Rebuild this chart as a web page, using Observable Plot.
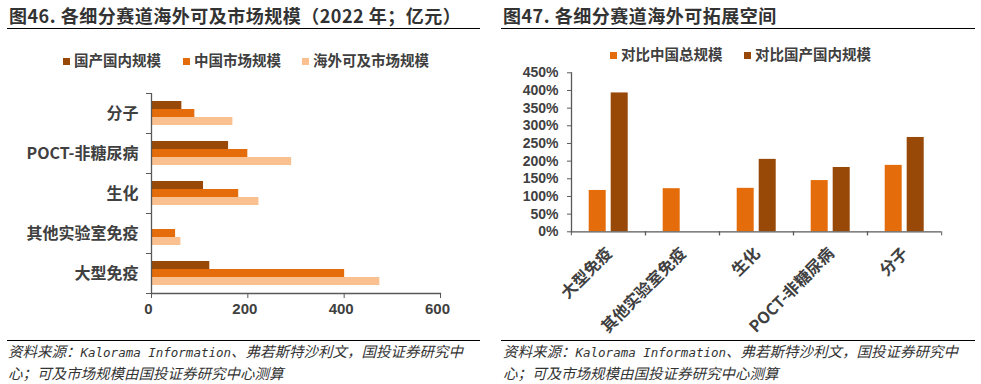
<!DOCTYPE html>
<html><head><meta charset="utf-8">
<script src="https://cdn.jsdelivr.net/npm/d3@7"></script>
<script src="https://cdn.jsdelivr.net/npm/@observablehq/plot@0.6"></script>
<style>
body{margin:0;background:#fff;}
#wrap{position:relative;width:981px;height:384px;overflow:hidden;font-family:"Noto Sans CJK SC","Liberation Sans",sans-serif;color:#404040;}
.title{position:absolute;top:2px;font-size:18px;font-weight:bold;color:#333;white-space:nowrap;letter-spacing:0.5px;}
.hline{position:absolute;height:0;border-top:1.5px solid #000;}
.legend{position:absolute;font-size:14.5px;font-weight:bold;white-space:nowrap;color:#404040;}
.legend span.sw{display:inline-block;width:7px;height:7px;margin-right:4px;vertical-align:middle;position:relative;top:-1px;}
.cap{position:absolute;font-size:14.5px;font-style:italic;color:#333;line-height:20px;font-family:"Noto Sans CJK SC",sans-serif;white-space:nowrap;}
.cap .lat{font-family:"DejaVu Sans Mono",monospace;font-size:12.5px;}
.plot{position:absolute;}
</style></head>
<body><div id="wrap"></div>
<script>
// ---------- data ----------
const categories = ["分子", "POCT-非糖尿病", "生化", "其他实验室免疫", "大型免疫"];
const seriesLeft = ["国产国内规模", "中国市场规模", "海外可及市场规模"];
const domesticMade = [63, 160, 108, 0, 121];     // 国产国内规模 (亿元)
const chinaMarket  = [90, 200, 181, 50, 401];    // 中国市场规模
const overseasMkt  = [169, 291, 223, 61, 474];   // 海外可及市场规模
const xTicksLeft = [0, 200, 400, 600];

const categoriesRight = ["大型免疫", "其他实验室免疫", "生化", "POCT-非糖尿病", "分子"];
const seriesRight = ["对比中国总规模", "对比国产国内规模"];
const vsChina    = [1.17, 1.22, 1.23, 1.45, 1.88];
const vsDomestic = [3.93, null, 2.05, 1.82, 2.67];
const yTicksRight = [0, 0.5, 1, 1.5, 2, 2.5, 3, 3.5, 4, 4.5];

const cDark = "#984807", cOrange = "#E46C0A", cLight = "#FAC090";
const axisColor = "#595959";
const txt = "#404040";

// ---------- layout text ----------
const wrap = document.getElementById("wrap");
function el(tag, cls, style, html){const e=document.createElement(tag);e.className=cls;Object.assign(e.style,style);if(html!=null)e.innerHTML=html;wrap.appendChild(e);return e;}

el("div","title",{left:"9px"},"图46. 各细分赛道海外可及市场规模（2022 年；亿元）");
el("div","title",{left:"503px"},"图47. 各细分赛道海外可拓展空间");
el("div","hline",{left:"7px",width:"473px",top:"28px"});
el("div","hline",{left:"501px",width:"474px",top:"28px"});
el("div","hline",{left:"7px",width:"473px",top:"340px"});
el("div","hline",{left:"501px",width:"474px",top:"340px"});

function legendItem(x, y, color, label){
  el("div","legend",{left:x+"px",top:y+"px"},`<span class="sw" style="background:${color}"></span>${label}`);
}
legendItem(63, 49, cDark, seriesLeft[0]);
legendItem(183, 49, cOrange, seriesLeft[1]);
legendItem(302, 49, cLight, seriesLeft[2]);
legendItem(610, 43, cOrange, seriesRight[0]);
legendItem(744, 43, cDark, seriesRight[1]);

const capHtml = '资料来源：<span class="lat">Kalorama Information</span>、弗若斯特沙利文，国投证券研究中<br>心；可及市场规模由国投证券研究中心测算';
el("div","cap",{left:"8px",top:"341px"},capHtml);
el("div","cap",{left:"503px",top:"341px"},capHtml);

// ---------- left chart ----------
const leftData = [];
categories.forEach((c,i)=>{
  leftData.push({cat:c, series:seriesLeft[0], value:domesticMade[i]});
  leftData.push({cat:c, series:seriesLeft[1], value:chinaMarket[i]});
  leftData.push({cat:c, series:seriesLeft[2], value:overseasMkt[i]});
});
const fontStack = '"Noto Sans CJK SC", sans-serif';
const numFont = '"Liberation Sans", Arial, sans-serif';

const left = Plot.plot({
  width: 470, height: 250,
  marginLeft: 151, marginRight: 30, marginTop: 13, marginBottom: 37,
  style: {fontFamily: numFont, color: txt, background: "transparent", overflow: "visible"},
  x: {domain: [0, 600], ticks: xTicksLeft},
  y: {domain: seriesLeft, paddingInner: 0, paddingOuter: 0.9, axis: null},
  fy: {domain: categories, padding: 0},
  color: {domain: seriesLeft, range: [cDark, cOrange, cLight]},
  marks: [
    Plot.barX(leftData, {fy: "cat", y: "series", x: "value", fill: "series"}),
    Plot.ruleX([0], {stroke: axisColor, strokeWidth: 1.3}),
    Plot.frame({anchor: "bottom", facetAnchor: "bottom", stroke: axisColor, strokeWidth: 1.3}),
    Plot.axisX({ticks: xTicksLeft, tickSize: 5, stroke: axisColor, tickFormat: () => "", label: null}),
    Plot.axisX({ticks: xTicksLeft, tickSize: 0, tickPadding: 10, dx: -3, fontSize: 15, fontWeight: "bold", fill: txt, label: null}),
    Plot.axisFy({anchor: "left", tickSize: 0, tickPadding: 13, fontSize: 16, fontWeight: "bold", fontFamily: fontStack, fill: txt, label: null}),
    Plot.axisFy({anchor: "left", tickSize: 5, dy: -20, tickFormat: () => "", stroke: axisColor, label: null}),
    Plot.axisFy({anchor: "left", tickSize: 5, dy: 20, tickFormat: () => "", stroke: axisColor, label: null})
  ]
});
left.classList.add("plot");
Object.assign(left.style, {left: "0px", top: "80px", position: "absolute"});
wrap.appendChild(left);

// ---------- right chart ----------
const rightData = [];
categoriesRight.forEach((c,i)=>{
  rightData.push({cat:c, series:seriesRight[0], value:vsChina[i]});
  if (vsDomestic[i] != null) rightData.push({cat:c, series:seriesRight[1], value:vsDomestic[i]});
});
const stepR = (452 - 80.3) / categoriesRight.length;

const right = Plot.plot({
  width: 480, height: 260,
  marginLeft: 80.3, marginRight: 28, marginTop: 12.3, marginBottom: 88.7,
  style: {fontFamily: numFont, color: txt, background: "transparent", overflow: "visible"},
  x: {domain: seriesRight, paddingInner: 0.25, paddingOuter: 0.8, axis: null},
  y: {domain: [0, 4.5], ticks: yTicksRight},
  fx: {domain: categoriesRight, padding: 0},
  color: {domain: seriesRight, range: [cOrange, cDark]},
  marks: [
    Plot.barY(rightData, {fx: "cat", x: "series", y: "value", fill: "series"}),
    Plot.ruleY([0], {stroke: axisColor, strokeWidth: 1.3}),
    Plot.frame({anchor: "left", facetAnchor: "left", stroke: axisColor, strokeWidth: 1.3}),
    Plot.axisY({ticks: yTicksRight, tickFormat: d3.format(".0%"), tickSize: 4, tickPadding: 9, fontSize: 14, fontWeight: "bold", stroke: axisColor, fill: txt, label: null}),
    Plot.axisFx({anchor: "bottom", tickSize: 0, tickPadding: 19, tickRotate: -45, dx: 1, fontSize: 16, fontWeight: "bold", fontFamily: fontStack, fill: txt, label: null}),
    Plot.axisFx({anchor: "bottom", tickSize: 4, dx: -stepR/2, tickFormat: () => "", stroke: axisColor, label: null}),
    Plot.axisFx({anchor: "bottom", tickSize: 4, dx: stepR/2, tickFormat: () => "", stroke: axisColor, label: null})
  ]
});
right.classList.add("plot");
Object.assign(right.style, {left: "490px", top: "60px", position: "absolute"});
wrap.appendChild(right);
</script>
</body></html>
